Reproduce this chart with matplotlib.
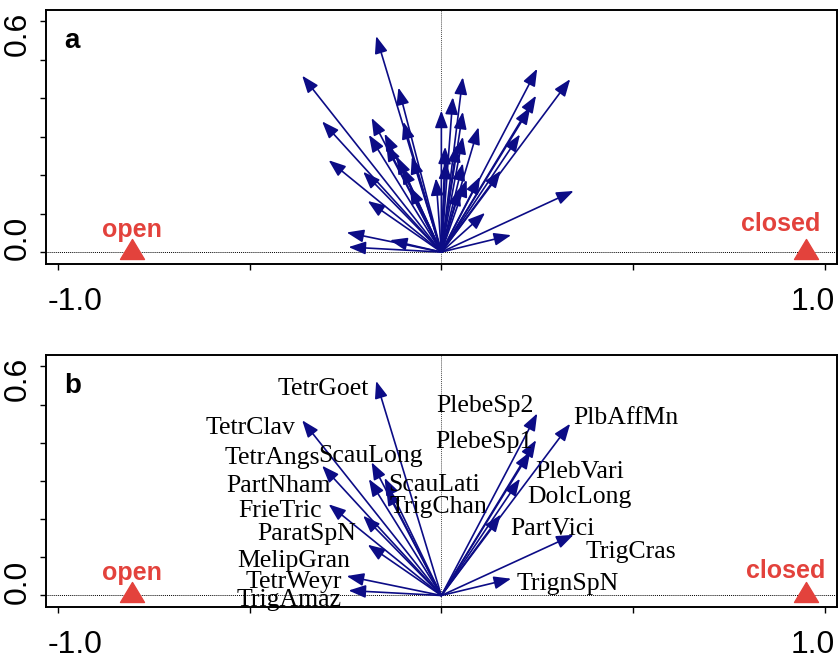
import matplotlib
matplotlib.use("Agg")
import matplotlib.pyplot as plt
from matplotlib.path import Path

# species scores (axis 1, axis 2) for the named species (panel b)
names = ["TetrGoet", "TetrClav", "TetrAngs", "ScauLong", "PartNham", "ScauLati",
         "TrigChan", "FrieTric", "ParatSpN", "MelipGran", "TetrWeyr", "TrigAmaz",
         "PlebeSp2", "PlebeSp1", "PlebVari", "DolcLong", "PartVici", "PlbAffMn",
         "TrigCras", "TrignSpN"]
x_named = [-0.170, -0.363, -0.311, -0.182, -0.189, -0.148,
           -0.144, -0.294, -0.204, -0.192, -0.247, -0.242,
           0.250, 0.247, 0.232, 0.205, 0.155, 0.336,
           0.345, 0.182]
y_named = [0.562, 0.459, 0.340, 0.349, 0.305, 0.308,
           0.281, 0.239, 0.209, 0.133, 0.051, 0.013,
           0.477, 0.407, 0.377, 0.306, 0.212, 0.450,
           0.159, 0.044]

# remaining species, only shown in panel a
x_other = [-0.134, -0.112, -0.099, -0.116, -0.077, -0.082, -0.103, -0.014,
           0.000, 0.010, 0.012, 0.030, 0.056, 0.056, 0.040, 0.056,
           0.056, 0.066, 0.047, 0.097, 0.101, 0.114]
y_other = [0.031, 0.428, 0.339, 0.248, 0.248, 0.170, 0.222, 0.192,
           0.368, 0.274, 0.235, 0.403, 0.455, 0.365, 0.279, 0.300,
           0.231, 0.188, 0.166, 0.325, 0.196, 0.102]

# habitat centroids
env_names = ["open", "closed"]
env_x = [-0.807, 0.950]
env_y = [0.0, 0.0]

navy = "#0c0c86"
red = "#e3423c"

# label placement for panel b: (dx px, dy px, ha)
label_pos = {
    "TetrGoet": (-7, 14, "right"), "TetrClav": (-7, 14, "right"),
    "TetrAngs": (-2, -2, "right"), "ScauLong": (-1, 0, "center"),
    "PartNham": (-38, 13, "right"), "ScauLati": (4, 13, "left"),
    "TrigChan": (3, 25, "left"), "FrieTric": (-7, 13, "right"),
    "ParatSpN": (-7, 24, "right"), "MelipGran": (-17, 22, "right"),
    "TetrWeyr": (-5, 12, "right"), "TrigAmaz": (-7, 15, "right"),
    "PlebeSp2": (-4, -1, "right"), "PlebeSp1": (-3, 8, "right"),
    "PlebVari": (5, 26, "left"), "DolcLong": (7, 24, "left"),
    "PartVici": (9, 20, "left"), "PlbAffMn": (3, 0, "left"),
    "TrigCras": (12, 23, "left"), "TrignSpN": (5, 11, "left"),
}

# triangle centred on its centroid, like R's pch 17
tri = Path([(0, 13), (-12, -7), (12, -7), (0, 13)], closed=True)

fig = plt.figure(figsize=(8.38, 6.56), dpi=100)
ax_a = fig.add_axes([0.0545, 0.5976, 0.9439, 0.3872])
ax_b = fig.add_axes([0.0545, 0.0742, 0.9439, 0.3846])


def arrow(ax, x, y):
    ax.annotate("", xy=(x, y), xytext=(0, 0),
                arrowprops=dict(arrowstyle="-|>,head_length=0.45,head_width=0.17",
                                color=navy, lw=1.2, shrinkA=0, shrinkB=0,
                                mutation_scale=23))


def setup(ax, letter, env_off):
    ax.set_xlim(-1.032, 1.031)
    ax.set_ylim(-0.031, 0.63)
    ax.set_xticks([-1, -0.5, 0, 0.5, 1])
    ax.set_yticks([0, 0.1, 0.2, 0.3, 0.4, 0.5, 0.6])
    ax.tick_params(direction="out", length=4.5, width=1.0,
                   labelbottom=False, labelleft=False)
    for s in ax.spines.values():
        s.set_linewidth(1.4)
    ax.axhline(0, color="black", lw=0.7, ls=(0, (1, 1)), zorder=1)
    ax.axvline(0, color="0.3", lw=0.7, ls=(0, (1, 1)), zorder=1)

    # tick labels
    for txt, v, off in [("-1.0", -1.0, 17), ("1.0", 1.0, -12)]:
        ax.annotate(txt, xy=(v, 0),
                    xycoords=("data", "axes fraction"), xytext=(off, -23),
                    textcoords="offset pixels", ha="center", va="top",
                    fontsize=23, family="Liberation Sans", annotation_clip=False)
    for v, off in [(0.6, -12), (0.0, 14)]:
        ax.annotate("%.1f" % v, xy=(0, v), xycoords=("axes fraction", "data"),
                    xytext=(-12.5, off), textcoords="offset pixels",
                    ha="right", va="center", rotation=90,
                    fontsize=23, family="Liberation Sans", annotation_clip=False)

    ax.annotate(letter, xy=(0, 1), xycoords="axes fraction", xytext=(19, -38),
                textcoords="offset pixels", ha="left", va="baseline",
                fontsize=20, fontweight="bold", family="Liberation Sans")

    ax.plot(env_x, env_y, linestyle="none", marker=tri, markersize=18.7,
            color=red, zorder=5, clip_on=False)
    for name, x, y, off in zip(env_names, env_x, env_y, env_off):
        ax.annotate(name, xy=(x, y), xytext=off, textcoords="offset pixels",
                    ha="center", va="baseline", fontsize=18, fontweight="bold",
                    color=red, family="Liberation Sans")


# panel a: all species
setup(ax_a, "a", [(0, 15), (-25, 21)])
for x, y in zip(x_named + x_other, y_named + y_other):
    arrow(ax_a, x, y)

# panel b: named species only
setup(ax_b, "b", [(0, 15), (-20, 17)])
for name, x, y in zip(names, x_named, y_named):
    arrow(ax_b, x, y)
    dx, dy, ha = label_pos[name]
    ax_b.annotate(name, xy=(x, y), xytext=(dx, -dy), textcoords="offset pixels",
                  ha=ha, va="baseline", fontsize=18.5, family="Liberation Serif")

fig.savefig("out.png", dpi=100)
